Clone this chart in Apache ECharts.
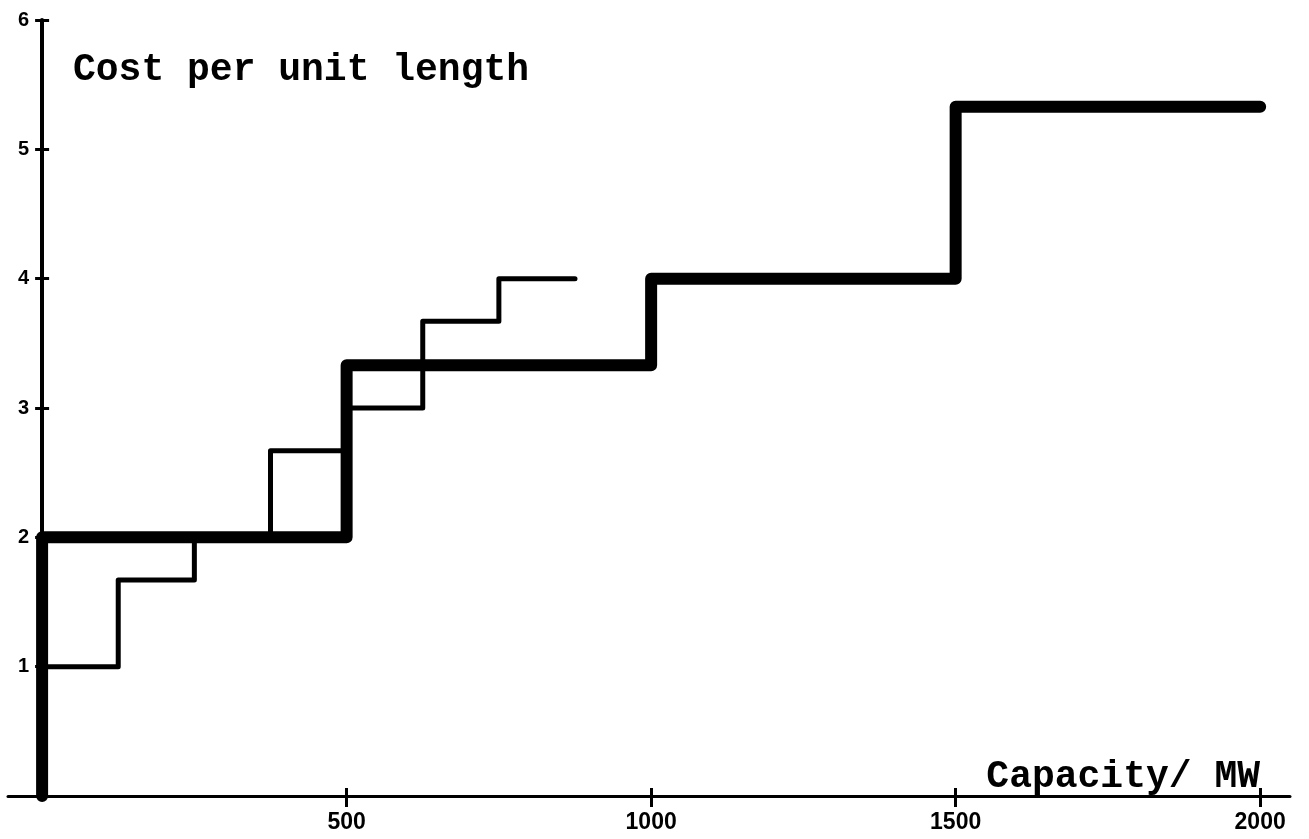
<!DOCTYPE html>
<html>
<head>
<meta charset="utf-8">
<script src="https://cdn.jsdelivr.net/npm/echarts@6/dist/echarts.min.js"></script>
<style>html,body{margin:0;padding:0;background:#fff}#c{width:1309px;height:839px}</style>
</head>
<body>
<div id="c"></div>
<script>
// Data
const xTicks = [500, 1000, 1500, 2000];
const yTicks = [1, 2, 3, 4, 5, 6];
// thick step curve (step at end): breakpoints x and level reached at each
const thickX = [0, 0, 500, 1000, 1500, 2000];
const thickY = [0, 2, 3.33, 4, 5.33, 5.33];
// thin step curve
const thinX = [0, 125, 250, 375, 500, 625, 750, 875];
const thinY = [1, 1.67, 2, 2.67, 3, 3.67, 4, 4];
const yTitle = 'Cost per unit length';
const xTitle = 'Capacity/ MW';

const chart = echarts.init(document.getElementById('c'), null, {renderer: 'canvas'});
const XMIN = -56, XMAX = 2049;
const labelFont = {fontFamily: 'Liberation Sans', fontWeight: 'bold', color: '#000'};
function pairs(xs, ys){ return xs.map((x,i)=>[x, ys[i]]); }
chart.setOption({
  animation: false,
  backgroundColor: '#fff',
  grid: {left: 8, right: 19, top: 20, bottom: 43, containLabel: false, outerBoundsMode: 'none'},
  title: [
    {text: yTitle, left: 68, top: 46, textStyle: {fontFamily: 'Liberation Mono', fontWeight: 'bold', fontSize: 38, color: '#000'}},
    {text: xTitle, right: 44, top: 753, textStyle: {fontFamily: 'Liberation Mono', fontWeight: 'bold', fontSize: 38, color: '#000'}}
  ],
  xAxis: [
    {type: 'value', min: XMIN, max: XMAX,
     axisLine: {show: true, onZero: true, onZeroAxisIndex: 0, lineStyle: {color: '#000', width: 3}},
     axisTick: {show: true, customValues: xTicks, length: 11, lineStyle: {color: '#000', width: 3}},
     axisLabel: {show: true, customValues: xTicks, margin: 15, fontSize: 23, formatter: v => String(v), ...labelFont},
     splitLine: {show: false}},
    {type: 'value', min: XMIN, max: XMAX, position: 'bottom',
     axisLine: {show: false, onZero: true, onZeroAxisIndex: 0},
     axisTick: {show: true, inside: true, customValues: xTicks, length: 8, lineStyle: {color: '#000', width: 3}},
     axisLabel: {show: false}, splitLine: {show: false}}
  ],
  yAxis: [
    {type: 'value', min: 0, max: 6,
     axisLine: {show: true, onZero: true, onZeroAxisIndex: 0, lineStyle: {color: '#000', width: 4}},
     axisTick: {show: true, customValues: yTicks, length: 7, lineStyle: {color: '#000', width: 3}},
     axisLabel: {show: true, customValues: yTicks, margin: -21, fontSize: 20, formatter: v => String(v), ...labelFont},
     splitLine: {show: false}},
    {type: 'value', min: 0, max: 6, position: 'left',
     axisLine: {show: false, onZero: true, onZeroAxisIndex: 0},
     axisTick: {show: true, inside: true, customValues: yTicks, length: 7, lineStyle: {color: '#000', width: 3}},
     axisLabel: {show: false}, splitLine: {show: false}}
  ],
  series: [
    {type: 'line', name: 'thin', step: 'end', data: pairs(thinX, thinY), symbol: 'none',
     lineStyle: {color: '#000', width: 5, cap: 'round', join: 'round'}, z: 3},
    {type: 'line', name: 'thick', step: 'end', data: pairs(thickX, thickY), symbol: 'none',
     lineStyle: {color: '#000', width: 12, cap: 'round', join: 'round'}, z: 4}
  ]
});
</script>
</body>
</html>
